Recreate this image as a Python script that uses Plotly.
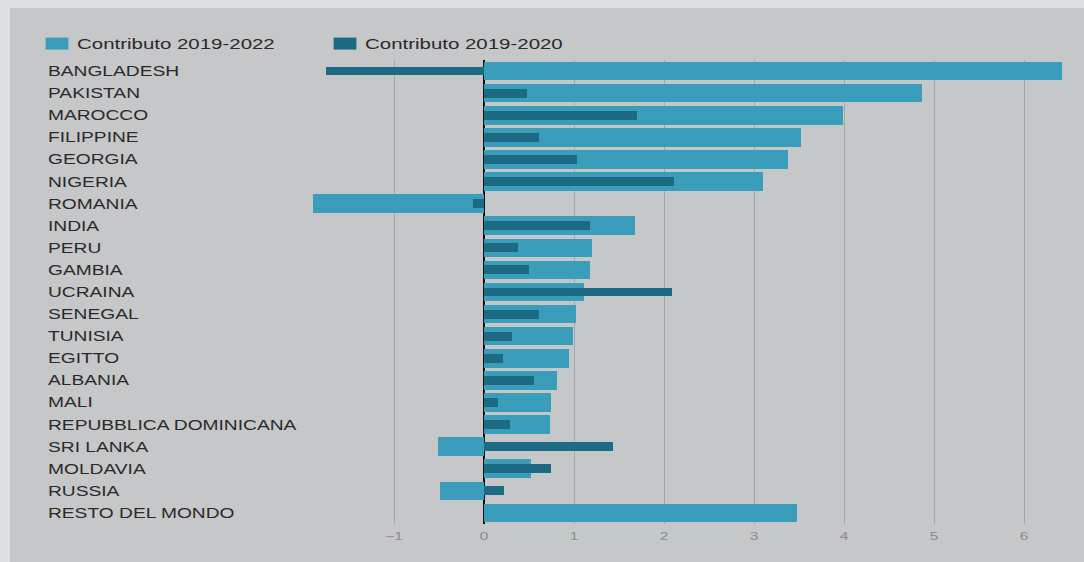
import plotly.graph_objects as go

categories = ["BANGLADESH", "PAKISTAN", "MAROCCO", "FILIPPINE", "GEORGIA", "NIGERIA",
              "ROMANIA", "INDIA", "PERU", "GAMBIA", "UCRAINA", "SENEGAL", "TUNISIA",
              "EGITTO", "ALBANIA", "MALI", "REPUBBLICA DOMINICANA", "SRI LANKA",
              "MOLDAVIA", "RUSSIA", "RESTO DEL MONDO"]
contrib_2019_2022 = [6.42, 4.87, 3.99, 3.52, 3.38, 3.10, -1.90, 1.68, 1.20, 1.18, 1.11,
                     1.02, 0.99, 0.94, 0.81, 0.74, 0.73, -0.51, 0.52, -0.49, 3.48]
contrib_2019_2020 = [-1.76, 0.48, 1.70, 0.61, 1.03, 2.11, -0.12, 1.18, 0.38, 0.50, 2.09,
                     0.61, 0.31, 0.21, 0.56, 0.16, 0.29, 1.43, 0.74, 0.22, 0.0]
x_ticks = [-1, 0, 1, 2, 3, 4, 5, 6]

LIGHT = "#3a9dba"
DARK = "#1d6a84"

W, H = 1084, 562
L, R, T, B = 290, 14, 60, 38
pw = W - L - R
ph = H - T - B

def px_x(p):
    return (p - L) / pw

def px_y(p):
    return (H - B - p) / ph

fig = go.Figure()
fig.add_trace(go.Bar(y=categories, x=contrib_2019_2022, orientation="h", name="Contributo 2019-2022",
                     marker=dict(color=LIGHT, line=dict(width=0)), width=0.84))
fig.add_trace(go.Bar(y=categories, x=contrib_2019_2020, orientation="h", name="Contributo 2019-2020",
                     marker=dict(color=DARK, line=dict(width=0)), width=0.4))

annotations = []
for c in categories:
    annotations.append(dict(x=px_x(46), xref="paper", y=c, yref="y", text=c, showarrow=False,
                            xanchor="left", yanchor="middle",
                            font=dict(family="Liberation Sans", size=14, color="#2a2a2a")))

fig.update_layout(
    width=W, height=H,
    margin=dict(l=L, r=R, t=T, b=B),
    paper_bgcolor="#dedfe1",
    plot_bgcolor="rgba(0,0,0,0)",
    barmode="overlay",
    bargap=0,
    showlegend=True,
    legend=dict(orientation="h", x=px_x(37), y=px_y(28), xanchor="left", yanchor="top",
                font=dict(family="Liberation Sans", size=14, color="#2a2a2a"),
                bgcolor="rgba(0,0,0,0)", traceorder="normal", itemwidth=30,
                entrywidth=243, entrywidthmode="pixels"),
    xaxis=dict(range=[(L - 484) / 90, (W - R - 484) / 90], tickvals=x_ticks,
               ticktext=["\u22121" if v < 0 else str(v) for v in x_ticks],
               showgrid=True, gridcolor="#a5a6a8", gridwidth=1,
               zeroline=True, zerolinecolor="#111111", zerolinewidth=2,
               tickfont=dict(family="Liberation Sans", size=11, color="#8a8b8d"),
               ticks="", showline=False, ticklabelstandoff=4),
    yaxis=dict(categoryorder="array", categoryarray=categories, autorange="reversed",
               range=[len(categories) - 0.5, -0.5],
               showticklabels=False, showgrid=False, zeroline=False, ticks=""),
    annotations=annotations,
    shapes=[dict(type="rect", xref="paper", yref="paper", x0=px_x(10), x1=px_x(1084),
                 y0=px_y(562), y1=px_y(8), fillcolor="#c6c7c9", line=dict(width=0), layer="below")],
)

post = """
document.body.style.margin='0';
var gd=document.getElementById('{plot_id}');
function stretch(sel, k, keepLeft){
  gd.querySelectorAll(sel).forEach(function(t){
    var w=t.getComputedTextLength();
    if(w>0){
      var x0=t.getBBox().x;
      t.setAttribute('textLength', w*k);
      t.setAttribute('lengthAdjust','spacingAndGlyphs');
      if(keepLeft){
        var dx=x0-t.getBBox().x;
        var xa=parseFloat(t.getAttribute('x')||'0');
        t.setAttribute('x', xa+dx);
      }
    }
  });
}
stretch('.annotation-text', 1.37, true);
stretch('.legendtext', 1.46, true);
stretch('.xtick text', 1.4, false);
gd.querySelectorAll('.legendpoints path').forEach(function(p){
  var tr=p.getAttribute('transform')||'';
  p.setAttribute('transform', tr+' scale(1.9,1)');
});
"""

fig.write_html("out.html", post_script=post, config={"displayModeBar": False})
